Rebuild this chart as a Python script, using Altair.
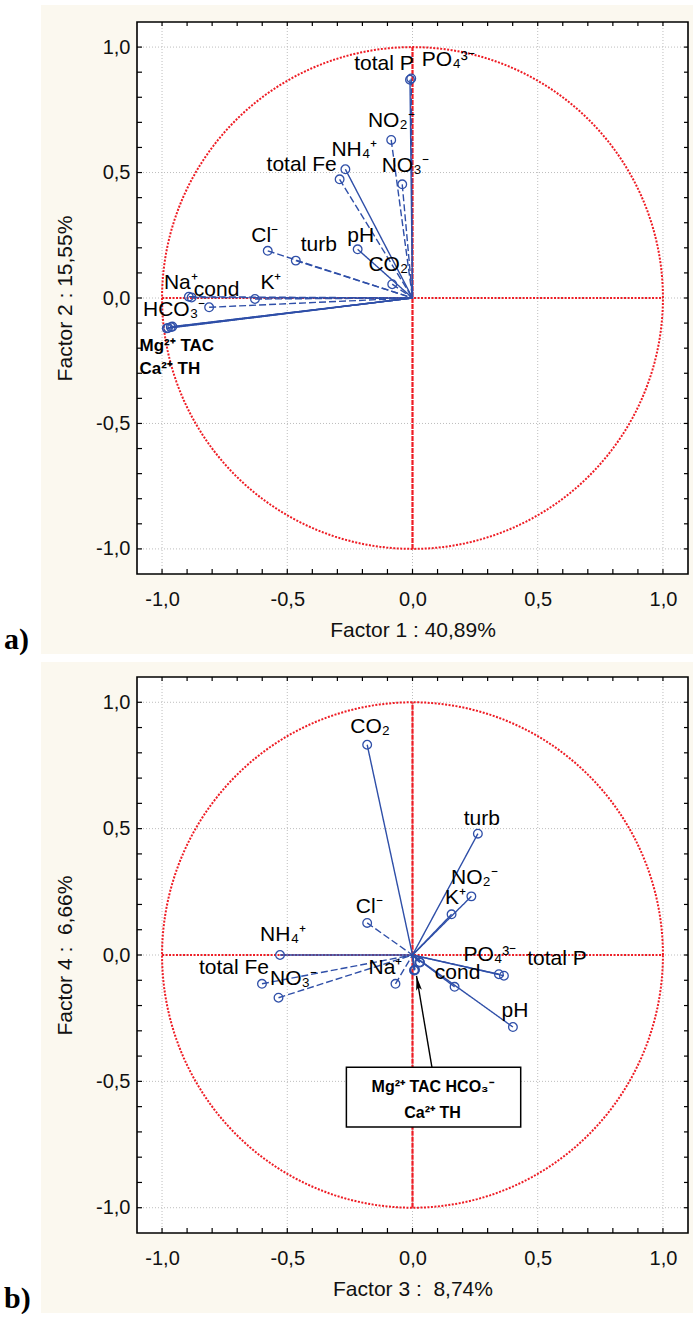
import altair as alt
import numpy as np
import pandas as pd

FONT = "Liberation Sans"
BLUE = "#2f4fa8"
RED = "#ee1c24"
CREAM = "#fbf8ef"
GRID = "#bdbdbd"

# ---------------- Panel a : Factor 1 vs Factor 2 ----------------
a_vars = ["total P", "PO₄³⁻", "NO₂⁻", "NH₄⁺", "total Fe", "NO₃⁻", "Cl⁻", "turb", "pH", "CO₂",
          "Na⁺", "cond", "K⁺", "HCO₃⁻", "Mg²⁺", "TAC", "Ca²⁺", "TH"]
a_f1 = [-0.010, -0.005, -0.085, -0.268, -0.291, -0.041, -0.578, -0.466, -0.219, -0.081,
        -0.893, -0.882, -0.629, -0.812, -0.981, -0.976, -0.965, -0.959]
a_f2 = [0.870, 0.875, 0.630, 0.513, 0.473, 0.453, 0.188, 0.149, 0.194, 0.055,
        0.005, 0.002, -0.004, -0.037, -0.121, -0.119, -0.116, -0.114]
a_line = ["solid", "dashed", "dashed", "solid", "dashed", "dashed", "dashed", "dashed", "solid", "dashed",
          "dashed", "dashed", "dashed", "dashed", "solid", "solid", "solid", "solid"]
a_label = ["total P", "PO₄³⁻", "NO₂⁻", "NH₄⁺", "total Fe", "NO₃⁻", "Cl⁻", "turb", "pH", "CO₂",
           "Na⁺", "cond", "K⁺", "HCO₃⁻", "", "", "", ""]
# label offsets from the marker, in pixels
a_dx = [-26, 37, 0, 9, -38, 3, -3, 23, 3, -4, -8, 25, 16, -35, 0, 0, 0, 0]
a_dy = [-16, -18, -19, -19, -14, -18, -15, -16, -13, -19, -14, -7, -16, 3, 0, 0, 0, 0]
a_group_text = ["Mg²⁺ TAC", "Ca²⁺ TH"]
a_group_x = [-1.09, -1.09]
a_group_y = [-0.191, -0.283]

# ---------------- Panel b : Factor 3 vs Factor 4 ----------------
b_vars = ["CO₂", "turb", "NO₂⁻", "K⁺", "Cl⁻", "NH₄⁺", "total Fe", "NO₃⁻", "Na⁺", "cond",
          "PO₄³⁻", "total P", "pH", "Mg²⁺", "TAC", "HCO₃⁻", "Ca²⁺", "TH"]
b_f3 = [-0.181, 0.261, 0.235, 0.156, -0.181, -0.529, -0.601, -0.535, -0.068, 0.168,
        0.345, 0.365, 0.401, 0.008, 0.010, 0.028, 0.006, 0.030]
b_f4 = [0.832, 0.480, 0.232, 0.161, 0.127, 0.000, -0.114, -0.169, -0.114, -0.126,
        -0.076, -0.082, -0.285, -0.061, -0.058, -0.028, -0.060, -0.030]
b_line = ["solid", "solid", "solid", "solid", "dashed", "solid", "dashed", "dashed", "dashed", "solid",
          "solid", "solid", "solid", "solid", "solid", "solid", "solid", "solid"]
b_label = ["CO₂", "turb", "NO₂⁻", "K⁺", "Cl⁻", "NH₄⁺", "total Fe", "NO₃⁻", "Na⁺", "cond",
           "PO₄³⁻", "total P", "pH", "", "", "", "", ""]
b_dx = [3, 4, 3, 4, 2, 3, -28, 15, -10, 3, -9, 53, 2, 0, 0, 0, 0, 0]
b_dy = [-18, -15, -18, -16, -16, -20, -16, -19, -16, -14, -19, -17, -16, 0, 0, 0, 0, 0]
b_box_x = [-0.264]
b_box_x2 = [0.432]
b_box_y = [-0.444]
b_box_y2 = [-0.681]
b_box_text = ["Mg²⁺ TAC HCO₃⁻", "Ca²⁺  TH"]
b_box_text_x = [0.08, 0.08]
b_box_text_y = [-0.521, -0.626]
b_arrow_from = (0.078, -0.447)
b_arrow_to = (0.016, -0.083)

major_ticks = [-1.0, -0.5, 0.0, 0.5, 1.0]
minor_ticks = [round(v / 10, 1) for v in range(-10, 11)]

LABEL_EXPR = "replace(replace(format(datum.value, '.1f'), '.', ','), '\u2212', '-')"
DOMAIN = [-1.1, 1.1]


def panel(vars_, fx, fy, lines, labels, dx, dy, xtitle, ytitle, H, letter, extra, cream_top, cream_bottom):
    W = 551
    kx = W / (DOMAIN[1] - DOMAIN[0])
    ky = H / (DOMAIN[1] - DOMAIN[0])
    xs = alt.Scale(domain=DOMAIN, nice=False, zero=False)
    ys = alt.Scale(domain=DOMAIN, nice=False, zero=False)
    xaxis = alt.Axis(values=major_ticks, labelExpr=LABEL_EXPR, ticks=False, domain=False, grid=False,
                     labelFont=FONT, labelFontSize=20, labelColor="#111", labelPadding=15,
                     title=xtitle, titleFont=FONT, titleFontSize=21, titleFontWeight="normal",
                     titleColor="#111", titlePadding=10, zindex=1)
    yaxis = alt.Axis(values=major_ticks, labelExpr=LABEL_EXPR, ticks=False, domain=False, grid=False,
                     labelFont=FONT, labelFontSize=20, labelColor="#111", labelPadding=7,
                     title=ytitle, titleFont=FONT, titleFontSize=21, titleFontWeight="normal",
                     titleColor="#111", titlePadding=20, zindex=1)

    def X(f):
        return alt.X(f, type="quantitative", scale=xs, axis=xaxis)

    def Y(f):
        return alt.Y(f, type="quantitative", scale=ys, axis=yaxis)

    one = pd.DataFrame({"k": [0]})
    df = pd.DataFrame({"name": vars_, "x": fx, "y": fy, "line": lines, "lab": labels})
    df["o"] = 0.0
    df["lx"] = df["x"] + np.array(dx) / kx
    df["ly"] = df["y"] - np.array(dy) / ky

    cream = alt.Chart(one).mark_rect(color=CREAM).encode(
        x=alt.value(-96), x2=alt.value(W + 5), y=alt.value(cream_top), y2=alt.value(cream_bottom))
    white = alt.Chart(one).mark_rect(color="white").encode(
        x=alt.value(0), x2=alt.value(W), y=alt.value(0), y2=alt.value(H))

    gdf = pd.DataFrame({"v": major_ticks})
    gridx = alt.Chart(gdf).mark_rule(color=GRID, strokeWidth=1, strokeDash=[1, 2]).encode(
        x=X("v"), y=alt.value(0), y2=alt.value(H))
    gridy = alt.Chart(gdf).mark_rule(color=GRID, strokeWidth=1, strokeDash=[1, 2]).encode(
        y=Y("v"), x=alt.value(0), x2=alt.value(W))

    ang = np.linspace(0, 2 * np.pi, 241)
    cdf = pd.DataFrame({"cx": np.cos(ang), "cy": np.sin(ang), "i": np.arange(len(ang))})
    circle = alt.Chart(cdf).mark_line(color=RED, strokeWidth=2, strokeDash=[2, 1.5]).encode(
        x=X("cx"), y=Y("cy"), order="i:Q")

    adf = pd.DataFrame({"x1": [-1.0], "x2": [1.0], "z": [0.0]})
    hline = alt.Chart(adf).mark_rule(color=RED, strokeWidth=2, strokeDash=[2, 1.5]).encode(
        x=X("x1"), x2="x2", y=Y("z"))
    vdf = pd.DataFrame({"y1": [-1.0], "y2": [1.0], "z": [0.0]})
    vline = alt.Chart(vdf).mark_rule(color=RED, strokeWidth=2.2, strokeDash=[5, 1]).encode(
        y=Y("y1"), y2="y2", x=X("z"))

    vec = alt.Chart(df).mark_rule(color=BLUE, strokeWidth=1.4).encode(
        x=X("x"), y=Y("y"), x2="o", y2="o",
        strokeDash=alt.StrokeDash("line:N", scale=alt.Scale(domain=["solid", "dashed"],
                                                             range=[[1, 0], [7, 3]]), legend=None))
    pts = alt.Chart(df).mark_point(shape="circle", filled=False, size=75, strokeWidth=1.3,
                                   color=BLUE, opacity=1).encode(x=X("x"), y=Y("y"))
    labs = alt.Chart(df).transform_filter("datum.lab != ''").mark_text(
        font=FONT, fontSize=21, color="black", align="center", baseline="middle").encode(
        x=X("lx"), y=Y("ly"), text="lab:N")

    tdf = pd.DataFrame({"t": minor_ticks})
    tb = alt.Chart(tdf).mark_rule(color="black", strokeWidth=1.2).encode(
        x=X("t"), y=alt.value(H), y2=alt.value(H - 5))
    tt = alt.Chart(tdf).mark_rule(color="black", strokeWidth=1.2).encode(
        x=X("t"), y=alt.value(0), y2=alt.value(4))
    tl = alt.Chart(tdf).mark_rule(color="black", strokeWidth=1.2).encode(
        y=Y("t"), x=alt.value(0), x2=alt.value(5))
    tr = alt.Chart(tdf).mark_rule(color="black", strokeWidth=1.2).encode(
        y=Y("t"), x=alt.value(W), x2=alt.value(W - 4))
    frame = alt.Chart(one).mark_rect(filled=False, stroke="black", strokeWidth=1.6, fill=None).encode(
        x=alt.value(0), x2=alt.value(W), y=alt.value(0), y2=alt.value(H))

    let = alt.Chart(pd.DataFrame({"t": [letter]})).mark_text(
        font="Liberation Serif", fontSize=30, fontWeight="bold", color="black",
        align="left", baseline="alphabetic").encode(
        x=alt.value(-133), y=alt.value(cream_bottom - 5), text="t:N")

    layers = [cream, white, gridx, gridy, circle, hline, vline, vec, pts, labs] + extra(X, Y) + \
             [frame, tb, tt, tl, tr, let]
    return alt.layer(*layers).properties(width=W, height=H)


def extra_a(X, Y):
    gdf = pd.DataFrame({"t": a_group_text, "x": a_group_x, "y": a_group_y})
    return [alt.Chart(gdf).mark_text(font=FONT, fontSize=17, fontWeight="bold", color="black",
                                     align="left", baseline="middle").encode(
        x=X("x"), y=Y("y"), text="t:N")]


def extra_b(X, Y):
    box = pd.DataFrame({"x": b_box_x, "x2": b_box_x2, "y": b_box_y, "y2": b_box_y2})
    boxm = alt.Chart(box).mark_rect(fill="white", stroke="black", strokeWidth=1.5).encode(
        x=X("x"), x2="x2", y=Y("y"), y2="y2")
    tdf = pd.DataFrame({"t": b_box_text, "x": b_box_text_x, "y": b_box_text_y})
    txt = alt.Chart(tdf).mark_text(font=FONT, fontSize=16, fontWeight="bold", color="black",
                                   align="center", baseline="middle").encode(
        x=X("x"), y=Y("y"), text="t:N")
    ar = pd.DataFrame({"x": [b_arrow_from[0]], "y": [b_arrow_from[1]],
                       "x2": [b_arrow_to[0]], "y2": [b_arrow_to[1]]})
    line = alt.Chart(ar).mark_rule(color="black", strokeWidth=1.4).encode(
        x=X("x"), y=Y("y"), x2="x2", y2="y2")
    head = alt.Chart(ar).mark_point(shape="M0,0L-0.32,1.6L0,1.25L0.32,1.6Z", filled=True,
                                    color="black", size=330, angle=350, opacity=1).encode(
        x=X("x2"), y=Y("y2"))
    return [line, head, boxm, txt]


pa = panel(a_vars, a_f1, a_f2, a_line, a_label, a_dx, a_dy,
           "Factor 1 : 40,89%", "Factor 2 : 15,55%", 552, "a)", extra_a, -17, 632)
pb = panel(b_vars, b_f3, b_f4, b_line, b_label, b_dx, b_dy,
           "Factor 3 :\u00a0 8,74%", "Factor 4 :\u00a0 6,66%", 556, "b)", extra_b, -15, 636)

chart = alt.vconcat(pa, pb, spacing=7).properties(
    padding={"left": 4, "top": 5, "right": 0, "bottom": 0}, background="white"
).configure_view(stroke=None)

chart.save("out.html", embed_options={"renderer": "svg", "actions": False})
